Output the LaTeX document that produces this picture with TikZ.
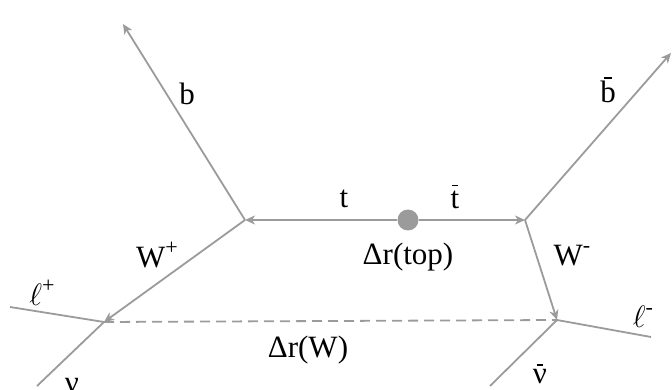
\documentclass[tikz,border=0pt]{standalone}
\RequirePackage{fix-cm}
\usepackage{fontspec}
\setmainfont{Liberation Serif}
\usetikzlibrary{arrows.meta}
\definecolor{linegray}{RGB}{155,155,155}
% letter with a bar drawn above it: #1 letter, #2 bar height, #3 bar width (fraction of the letter)
\newcommand{\barlet}[3]{\setbox0=\hbox{#1}\rlap{\hspace{\dimexpr(\wd0-#3\wd0)/2\relax}\rule[#2]{#3\wd0}{0.05em}}\box0}
% charge written as a raised, smaller sign
\newcommand{\chg}[1]{\raisebox{0.42em}{\fontsize{22}{22}\selectfont #1}}
\begin{document}
\begin{tikzpicture}[x=1pt,y=-1pt,
  prop/.style={draw=linegray,line width=1.8pt},
  arr/.style={prop,-{Stealth[length=10pt,width=9pt,inset=3pt]}},
  lbl/.style={font=\fontsize{31}{36}\selectfont,inner sep=0pt},
  dot/.style={circle,fill=linegray,minimum size=21pt,inner sep=0pt}]
\useasboundingbox (0,0) rectangle (672,390);
% vertices
\coordinate (A) at (245,220);
\coordinate (B) at (525,220);
\coordinate (C) at (104,322);
\coordinate (D) at (557,320);
\node[dot] (M) at (408,220) {};
% outgoing ends
\coordinate (bend) at (123,24);
\coordinate (bbarend) at (671,53);
\coordinate (lp) at (10,307);
\coordinate (nu) at (37,386);
\coordinate (lm) at (651,337);
\coordinate (nubar) at (490,386);
% top pair
\draw[arr] (M) -- (A);
\draw[arr] (M) -- (B);
% b quarks
\draw[arr] (A) -- (bend);
\draw[arr] (B) -- (bbarend);
% W bosons
\draw[arr] (A) -- (C);
\draw[arr] (B) -- (D);
% leptons and neutrinos
\draw[prop] (lp) -- (C);
\draw[prop] (C) -- (nu);
\draw[prop] (D) -- (lm);
\draw[prop] (D) -- (nubar);
% separation between the W decay vertices
\draw[prop,dash pattern=on 10pt off 6pt] (C) -- (D);
% labels
\node[lbl] (lb) at (187,94) {b};
\node[lbl] (lbb) at (608,90) {\barlet{b}{0.78em}{0.5}};
\node[lbl] (lt) at (344,199) {t};
\node[lbl] (ltb) at (455,197) {\barlet{t}{0.72em}{0.8}};
\node[lbl] (ldr) at (408,257) {Δr(top)};
\node[lbl] (lwp) at (157,255) {W\chg{+}};
\node[lbl] (lwm) at (572,256) {W\chg{-}};
\node[lbl] (llp) at (42,293) {$\ell$\chg{+}};
\node[lbl] (llm) at (643,317) {$\ell$\chg{-}};
\node[lbl] (ldw) at (308,350) {Δr(W)};
\node[lbl] (lnu) at (72,386) {ν};
\node[lbl] (lnub) at (540,374) {\barlet{ν}{0.58em}{0.45}};
\end{tikzpicture}
\end{document}
